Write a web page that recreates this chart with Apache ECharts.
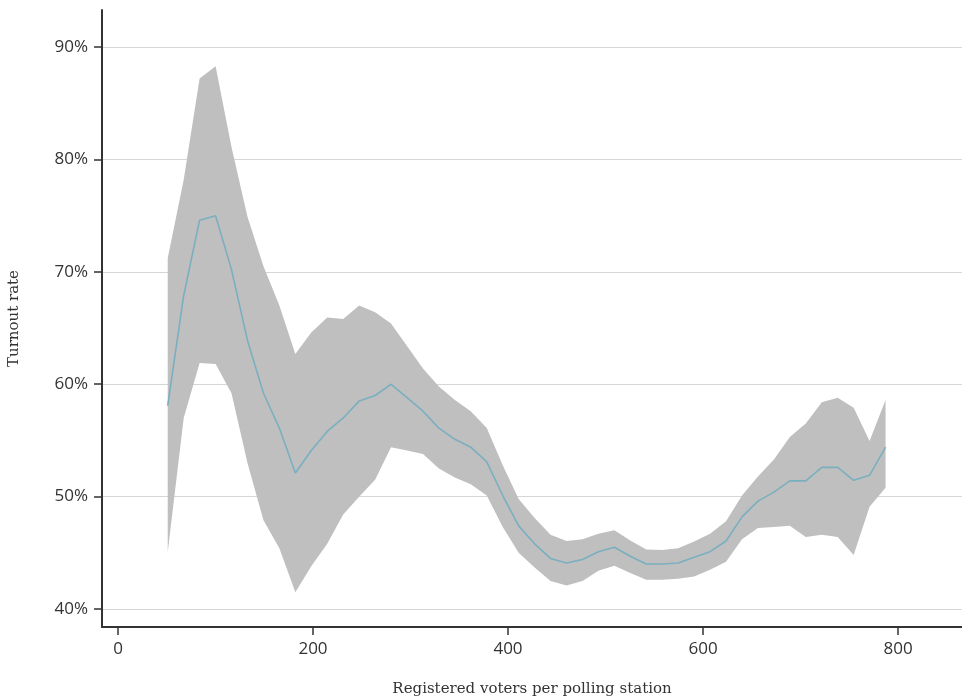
<!DOCTYPE html>
<html>
<head>
<meta charset="utf-8">
<script src="https://cdn.jsdelivr.net/npm/echarts@6/dist/echarts.min.js"></script>
<style>
  html, body { margin: 0; padding: 0; background: #fff; }
  #chart { width: 962px; height: 700px; }
</style>
</head>
<body>
<div id="chart"></div>
<script>
// registered voters per polling station (bin centres)
const voters = [
  51.0, 67.4, 83.7, 100.1, 116.4, 132.8, 149.2, 165.5, 181.9, 198.2,
  214.6, 231.0, 247.3, 263.7, 280.0, 296.4, 312.8, 329.1, 345.5, 361.8,
  378.2, 394.6, 410.9, 427.3, 443.6, 460.0, 476.4, 492.7, 509.1, 525.4,
  541.8, 558.2, 574.5, 590.9, 607.2, 623.6, 640.0, 656.3, 672.7, 689.0,
  705.4, 721.8, 738.1, 754.5, 770.8, 787.2
];

// mean turnout (%)
const turnout = [
  58.1, 67.9, 74.6, 75.0, 70.2, 63.9, 59.2, 56.1, 52.1, 54.1,
  55.8, 57.0, 58.5, 59.0, 60.0, 58.8, 57.6, 56.1, 55.1, 54.4,
  53.1, 50.1, 47.4, 45.8, 44.5, 44.1, 44.4, 45.1, 45.5, 44.7,
  44.0, 44.0, 44.1, 44.6, 45.1, 46.05, 48.2, 49.6, 50.4, 51.4,
  51.4, 52.6, 52.6, 51.45, 51.9, 54.4
];

// band bounds (%)
const upper = [
  71.2, 78.2, 87.2, 88.3, 81.1, 74.9, 70.5, 67.0, 62.7, 64.6,
  65.95, 65.8, 67.0, 66.4, 65.4, 63.4, 61.4, 59.8, 58.6, 57.6,
  56.1, 52.8, 49.8, 48.1, 46.6, 46.05, 46.2, 46.7, 47.0, 46.1,
  45.3, 45.25, 45.4, 46.0, 46.7, 47.8, 50.1, 51.8, 53.3, 55.3,
  56.5, 58.4, 58.8, 57.9, 54.95, 58.6
];
const lower = [
  45.05, 57.0, 61.9, 61.8, 59.2, 53.0, 47.9, 45.4, 41.5, 43.8,
  45.8, 48.4, 50.0, 51.5, 54.4, 54.1, 53.8, 52.5, 51.7, 51.1,
  50.1, 47.3, 45.0, 43.7, 42.5, 42.1, 42.5, 43.4, 43.85, 43.2,
  42.6, 42.6, 42.7, 42.9, 43.5, 44.2, 46.2, 47.2, 47.3, 47.4,
  46.4, 46.6, 46.4, 44.8, 49.1, 50.8
];

const xTicks = [0, 200, 400, 600, 800];
const yTicks = [40, 50, 60, 70, 80, 90];

const labelFont = '"Open Sans", sans-serif';
const titleFont = '"DejaVu Serif", serif';

const chart = echarts.init(document.getElementById('chart'), null, { renderer: 'canvas' });

// band polygon: upper edge left->right, then lower edge right->left
function renderBand(params, api) {
  if (params.dataIndex !== 0) return;
  const pts = [];
  for (let i = 0; i < voters.length; i++) pts.push(api.coord([voters[i], upper[i]]));
  for (let i = voters.length - 1; i >= 0; i--) pts.push(api.coord([voters[i], lower[i]]));
  return {
    type: 'polygon',
    shape: { points: pts },
    style: { fill: '#bfbfbf' },
    silent: true
  };
}

const option = {
  animation: false,
  grid: { left: 102, right: 0, top: 10, bottom: 73, outerBoundsMode: 'none' },
  xAxis: {
    type: 'value',
    min: -16.4,
    max: 865.6,
    name: 'Registered voters per polling station',
    nameLocation: 'middle',
    nameGap: 55,
    nameTextStyle: { fontFamily: titleFont, fontSize: 15, color: '#333' },
    axisLine: { onZero: false, lineStyle: { color: '#333', width: 2 } },
    axisTick: { customValues: xTicks, length: 8, lineStyle: { color: '#333', width: 1.5 } },
    axisLabel: { customValues: xTicks, fontFamily: labelFont, fontSize: 17, color: '#333', margin: 14 },
    splitLine: { show: false }
  },
  yAxis: {
    type: 'value',
    min: 38.4,
    max: 93.3,
    name: 'Turnout rate',
    nameLocation: 'middle',
    nameGap: 80,
    nameTextStyle: { fontFamily: titleFont, fontSize: 15, color: '#333' },
    axisLine: { show: true, onZero: false, lineStyle: { color: '#333', width: 2 } },
    axisTick: { show: true, customValues: yTicks, length: 8, lineStyle: { color: '#333', width: 1.5 } },
    axisLabel: {
      customValues: yTicks, fontFamily: labelFont, fontSize: 17, color: '#333', margin: 14,
      formatter: v => v + '%'
    },
    splitLine: { show: true, lineStyle: { color: '#d6d6d6', width: 1 } }
  },
  series: [
    {
      type: 'custom',
      renderItem: renderBand,
      data: voters.map((x, i) => [x, lower[i], upper[i]]),
      encode: { x: 0, y: [1, 2] },
      clip: true,
      z: 1
    },
    {
      type: 'line',
      data: voters.map((x, i) => [x, turnout[i]]),
      symbol: 'none',
      lineStyle: { color: '#7aafc0', width: 1.6 },
      z: 2
    }
  ]
};

chart.setOption(option);
</script>
</body>
</html>
